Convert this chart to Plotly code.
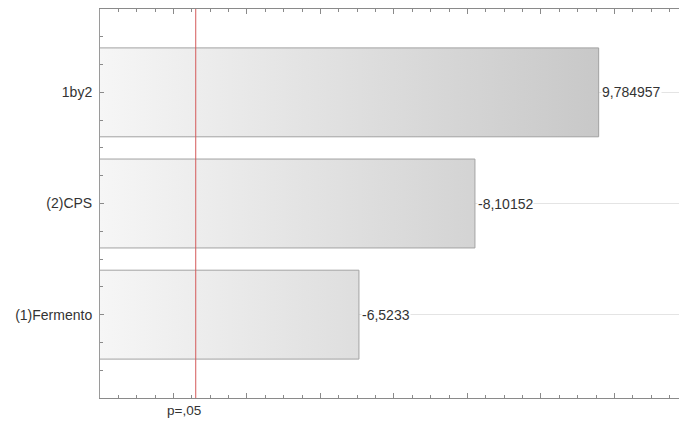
import plotly.graph_objects as go

# Pareto chart of standardized effects (absolute values)
effects = ["(1)Fermento", "(2)CPS", "1by2"]
estimates = [-6.5233, -8.10152, 9.784957]
t_crit = 4.302653          # two-sided critical t at p = .05
p_label = "p=,05"

x_min, x_max = 3.0, 10.878
bar_half = 0.4

fig = go.Figure()

for i, (name, est) in enumerate(zip(effects, estimates)):
    length = abs(est)
    xs = [0, length, length, 0, 0]
    ys = [i - bar_half, i - bar_half, i + bar_half, i + bar_half, i - bar_half]
    fig.add_trace(go.Scatter(
        x=xs, y=ys, mode="lines", fill="toself",
        line=dict(color="#a2a2a2", width=1),
        fillgradient=dict(type="horizontal",
                          colorscale=[[0, "#f6f6f6"], [1, "#c8c8c8"]],
                          start=x_min, stop=max(abs(v) for v in estimates)),
        hoverinfo="skip", showlegend=False,
    ))
    fig.add_annotation(
        x=length, y=i, text=f"{est}".replace(".", ","),
        xanchor="left", yanchor="middle", xshift=2, showarrow=False,
        bgcolor="white", borderpad=0,
        font=dict(size=14, color="#333333"),
    )

# significance threshold
fig.add_shape(type="line", x0=t_crit, x1=t_crit, y0=0, y1=1,
              xref="x", yref="paper", layer="above",
              line=dict(color="#d45a5a", width=1))
fig.add_annotation(x=t_crit, y=0, xref="x", yref="paper", text=p_label,
                   xanchor="center", yanchor="top", xshift=-12, yshift=-3,
                   showarrow=False, font=dict(size=13.5, color="#333333"))

fig.update_layout(
    width=679, height=423,
    margin=dict(l=100, r=0, t=9, b=25),
    paper_bgcolor="white", plot_bgcolor="white",
    font=dict(family="Liberation Sans, Arial, sans-serif", size=14, color="#333333"),
    xaxis=dict(
        range=[x_min, x_max], showgrid=False, zeroline=False,
        showline=True, linecolor="#8a8a8a", linewidth=1, mirror="ticks",
        tick0=0, dtick=1, ticks="inside", ticklen=5, tickcolor="#8a8a8a",
        showticklabels=False,
        minor=dict(dtick=0.25, ticks="inside", ticklen=3, tickcolor="#8a8a8a"),
    ),
    yaxis=dict(
        range=[-0.75, 2.75], zeroline=False,
        tickvals=list(range(len(effects))), ticktext=effects,
        showgrid=True, gridcolor="#e4e4e4", gridwidth=1,
        showline=True, linecolor="#9a9a9a", linewidth=1,
        ticks="inside", ticklen=4, tickcolor="#8a8a8a",
        ticklabelstandoff=4,
        minor=dict(dtick=0.25, tick0=0, ticks="inside", ticklen=3, tickcolor="#8a8a8a"),
    ),
)

fig.write_html("out.html")
